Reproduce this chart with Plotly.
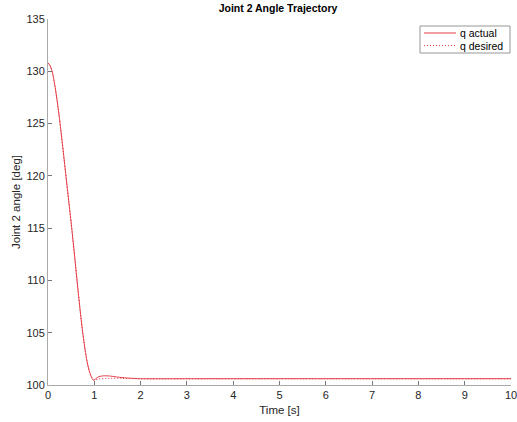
import plotly.graph_objects as go

# Actual joint angle
t_actual = [0, 0.05, 0.1, 0.15, 0.2, 0.25, 0.3, 0.35, 0.4, 0.45, 0.5, 0.55, 0.6, 0.65, 0.7,
            0.75, 0.8, 0.85, 0.9, 0.95, 0.98, 1.02, 1.06, 1.1, 1.2, 1.3, 1.4, 1.5, 1.7, 2.0,
            3.0, 5.0, 10.0]
q_actual = [130.8, 130.5, 129.8, 128.6, 127.1, 125.4, 123.5, 121.5, 119.5, 117.5, 115.5,
            113.4, 111.2, 109.0, 106.9, 105.0, 103.4, 102.1, 101.2, 100.65, 100.45, 100.55,
            100.7, 100.8, 100.88, 100.87, 100.82, 100.76, 100.67, 100.6, 100.6, 100.6, 100.6]

# Desired joint angle
t_desired = [0, 0.05, 0.1, 0.15, 0.2, 0.25, 0.3, 0.35, 0.4, 0.45, 0.5, 0.55, 0.6, 0.65, 0.7,
             0.75, 0.8, 0.85, 0.9, 0.95, 1.0, 1.1, 1.3, 1.6, 2.0, 5.0, 10.0]
q_desired = [130.8, 130.5, 129.8, 128.6, 127.1, 125.4, 123.5, 121.5, 119.5, 117.5, 115.5,
             113.4, 111.2, 109.0, 106.9, 105.0, 103.4, 102.1, 101.2, 100.7, 100.5, 100.58,
             100.64, 100.63, 100.6, 100.6, 100.6]

series_names = ["q actual", "q desired"]
x_ticks = list(range(0, 11))
y_ticks = [100, 105, 110, 115, 120, 125, 130, 135]

RED = "rgb(228,60,70)"
AX = "rgb(170,170,170)"
TXT = "rgb(38,38,38)"
FONT = "Liberation Sans, Arial, sans-serif"
DOT = "1px,2px"

W, H = 517, 422
L, R, T, B = 48, 6, 19, 37

fig = go.Figure()
fig.add_trace(go.Scatter(x=t_actual, y=q_actual, mode="lines", name=series_names[0],
                         line=dict(color=RED, width=1, shape="spline", smoothing=0.6)))
fig.add_trace(go.Scatter(x=t_desired, y=q_desired, mode="lines", name=series_names[1],
                         line=dict(color=RED, width=1, dash=DOT, shape="spline", smoothing=0.6)))

# Manual compact legend (MATLAB style), in pixel-derived paper coordinates
pw, ph = W - L - R, H - T - B
def px(x):
    return (x - L) / pw
def py(y):
    return 1 - (y - T) / ph

shapes = [dict(type="rect", xref="paper", yref="paper",
               x0=px(420), x1=px(510), y0=py(53), y1=py(26),
               line=dict(color="rgb(150,150,150)", width=1), fillcolor="white", layer="above")]
annotations = []
for i, (nm, dash) in enumerate(zip(series_names, ["solid", DOT])):
    yy = 33 + i * 12.5
    shapes.append(dict(type="line", xref="paper", yref="paper",
                       x0=px(424), x1=px(456), y0=py(yy), y1=py(yy),
                       line=dict(color=RED, width=1, dash=dash), layer="above"))
    annotations.append(dict(text=nm, xref="paper", yref="paper", x=px(458), y=py(yy),
                            xanchor="left", yanchor="middle", showarrow=False,
                            font=dict(size=10.5, color="black")))

fig.update_layout(
    width=W, height=H,
    margin=dict(l=L, r=R, t=T, b=B),
    paper_bgcolor="white", plot_bgcolor="white",
    font=dict(family=FONT, size=11, color=TXT),
    title=dict(text="<b>Joint 2 Angle Trajectory</b>", x=278 / W, xanchor="center",
               xref="container", yref="container",
               y=1 - 8.5 / H, yanchor="middle", font=dict(size=10.5, color="black")),
    showlegend=False,
    shapes=shapes, annotations=annotations,
)
fig.update_xaxes(range=[0, 10], tickvals=x_ticks, ticks="inside", ticklen=4,
                 tickcolor="rgb(120,120,120)", showline=True, linecolor=AX, linewidth=1,
                 showgrid=False, zeroline=False, mirror=False, automargin=False,
                 ticklabeloverflow="allow",
                 title=dict(text="Time [s]", standoff=5, font=dict(size=11.5)),
                 tickfont=dict(size=11))
fig.update_yaxes(range=[100, 135], tickvals=y_ticks, ticks="inside", ticklen=4,
                 tickcolor="rgb(120,120,120)", showline=True, linecolor=AX, linewidth=1,
                 showgrid=False, zeroline=False, mirror=False, automargin=False,
                 ticklabeloverflow="allow",
                 title=dict(text="Joint 2 angle [deg]", standoff=3, font=dict(size=11.5)),
                 tickfont=dict(size=11))

fig.write_html("out.html", config={"displayModeBar": False},
               post_script="document.body.style.margin='0';document.body.style.padding='0';")
